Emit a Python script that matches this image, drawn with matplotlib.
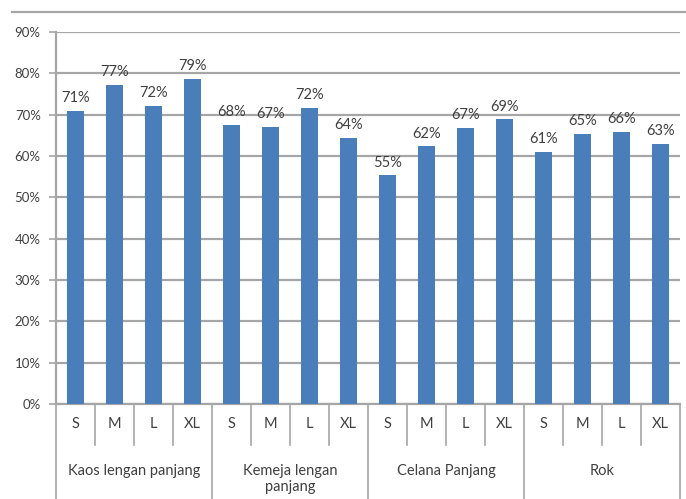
import matplotlib.pyplot as plt
from matplotlib.lines import Line2D
import numpy as np

groups = ["Kaos lengan panjang", "Kemeja lengan\npanjang", "Celana Panjang", "Rok"]
sizes = ["S", "M", "L", "XL"]
values = [0.709, 0.772, 0.721, 0.787,
          0.676, 0.671, 0.716, 0.644,
          0.553, 0.624, 0.668, 0.689,
          0.610, 0.654, 0.658, 0.630]
yticks = [0, 0.1, 0.2, 0.3, 0.4, 0.5, 0.6, 0.7, 0.8, 0.9]

plt.rcParams['font.family'] = ['Lato', 'DejaVu Sans']
txt = "#404040"
grid = "#a6a6a6"

fig = plt.figure(figsize=(6.86, 4.99), dpi=100)
ax = fig.add_axes([56 / 686, 95 / 499, 624 / 686, 372 / 499])

x = np.arange(len(values))
ax.bar(x, values, width=0.42, color="#4a7ebb", zorder=3)
for xi, v in zip(x, values):
    ax.annotate("{:.0f}%".format(v * 100), (xi, v), xytext=(0, 4), textcoords="offset points",
                ha="center", va="bottom", fontsize=10.5, color=txt)

ax.set_xlim(-0.5, len(values) - 0.5)
ax.set_ylim(0, 0.9)
ax.set_yticks(yticks)
ax.set_yticklabels(["{:.0f}%".format(t * 100) for t in yticks], fontsize=9.5, color=txt)
ax.tick_params(axis='y', length=5, width=1.2, color=grid, pad=6)
ax.set_xticks([])
ax.grid(axis='y', color=grid, linewidth=1.6, zorder=0)
for s in ["top", "right"]:
    ax.spines[s].set_visible(False)
ax.spines["left"].set_color(grid)
ax.spines["left"].set_linewidth(1.6)
ax.spines["bottom"].set_color(grid)
ax.spines["bottom"].set_linewidth(1.6)

# category axis: size labels, group labels, separators
trans = ax.get_xaxis_transform()
for i in range(len(values)):
    ax.text(i, -0.055, sizes[i % 4], transform=trans, ha="center", va="center", fontsize=10.5, color=txt)
for i in range(len(values) + 1):
    edge = i - 0.5
    low = -0.255 if i % 4 == 0 else -0.11
    ax.add_line(Line2D([edge, edge], [0, low], transform=trans, color=grid, lw=1.2, clip_on=False))
for g, name in enumerate(groups):
    ax.text(g * 4 + 1.5, -0.16, name, transform=trans, ha="center", va="top", fontsize=10.5,
            color=txt, linespacing=1.25)

fig.add_artist(Line2D([12 / 686, 1], [487 / 499, 487 / 499], color=grid, lw=1.6))

fig.savefig("out.png", dpi=100)
